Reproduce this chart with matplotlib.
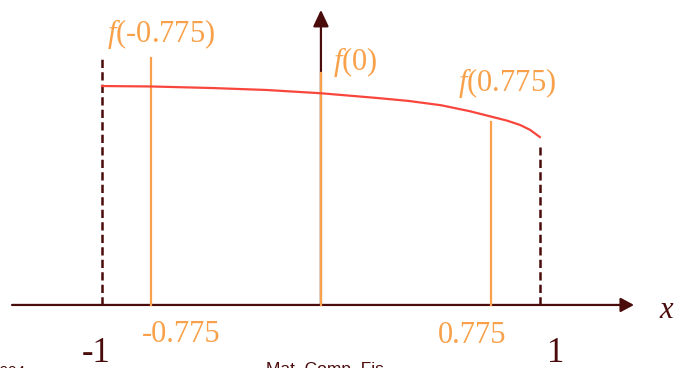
import matplotlib.pyplot as plt
from matplotlib.patches import FancyArrowPatch

plt.rcParams['mathtext.fontset'] = 'custom'
plt.rcParams['mathtext.it'] = 'Liberation Serif:italic'
plt.rcParams['mathtext.rm'] = 'Liberation Serif'

# curve
curve_x = [-1.0, -0.775, -0.5, -0.25, 0.0, 0.25, 0.4, 0.55, 0.68, 0.775, 0.85, 0.91, 0.955, 1.0]
curve_y = [1.000, 0.998, 0.991, 0.982, 0.967, 0.946, 0.932, 0.912, 0.885, 0.861, 0.842, 0.822, 0.800, 0.767]

# sample points (orange stems) and interval ends (dashed)
nodes = [-0.775, 0.0, 0.775]
node_tops = [1.128, 1.060, 0.836]
node_labels = [r'$\mathit{f}$(-0.775)', r'$\mathit{f}$(0)', r'$\mathit{f}$(0.775)']
tick_labels = ['-0.775', '', '0.775']
ends = [-1.0, 1.0]
end_tops = [1.133, 0.722]
end_labels = ['-1', '1']

dark = '#4a0b0b'
orange = '#f8a14a'
red = '#f9463c'

fig = plt.figure(figsize=(6.85, 3.68), dpi=100)
ax = fig.add_axes([0, 0, 1, 1])
ax.set_xlim(-1.466, 1.663)
ax.set_ylim(-0.288, 1.393)
ax.set_axis_off()

# axes with arrows
ax.add_patch(FancyArrowPatch((-1.411, 0), (1.430, 0), arrowstyle='-|>,head_length=0.8,head_width=0.43',
                             mutation_scale=10, color=dark, lw=1.6, shrinkA=0, shrinkB=0))
ax.add_patch(FancyArrowPatch((0, 0), (0, 1.348), arrowstyle='-|>,head_length=1.0,head_width=0.47',
                             mutation_scale=10, color=dark, lw=1.6, shrinkA=0, shrinkB=0))

# dashed interval ends
for x, top in zip(ends, end_tops):
    ax.plot([x, x], [0, top], color=dark, lw=1.8, ls=(0, (3.3, 1.7)), solid_capstyle='butt')

# stems
for x, top in zip(nodes, node_tops):
    ax.plot([x, x], [0, top], color=orange, lw=1.6)

# the function
ax.plot(curve_x, curve_y, color=red, lw=1.6, solid_joinstyle='round')

# labels
serif = 'Liberation Serif'
ax.text(-0.977, 1.201, node_labels[0], color=orange, fontsize=22, family=serif, ha='left', va='baseline')
ax.text(0.055, 1.074, node_labels[1], color=orange, fontsize=22, family=serif, ha='left', va='baseline')
ax.text(0.626, 0.978, node_labels[2], color=orange, fontsize=22, family=serif, ha='left', va='baseline')

ax.text(-0.639, -0.169, tick_labels[0], color=orange, fontsize=22, family=serif, ha='center', va='baseline')
ax.text(0.690, -0.174, tick_labels[2], color=orange, fontsize=22, family=serif, ha='center', va='baseline')

ax.text(-1.027, -0.260, end_labels[0], color=dark, fontsize=25, family=serif, ha='center', va='baseline')
ax.text(1.074, -0.260, end_labels[1], color=dark, fontsize=25, family=serif, ha='center', va='baseline')

ax.text(1.58, -0.06, r'$\mathit{x}$', color=dark, fontsize=22, family=serif, ha='center', va='baseline')

# footer, cut off by the slide edge as in the original
ax.text(-1.352, -0.325, '2004', color=dark, fontsize=11, family='Liberation Sans', ha='right', va='baseline')
ax.text(0.03, -0.315, 'Mat. Comp. Fis.', color=dark, fontsize=12.5, family='Liberation Sans',
        ha='center', va='baseline')

fig.savefig('out.png', dpi=100)
